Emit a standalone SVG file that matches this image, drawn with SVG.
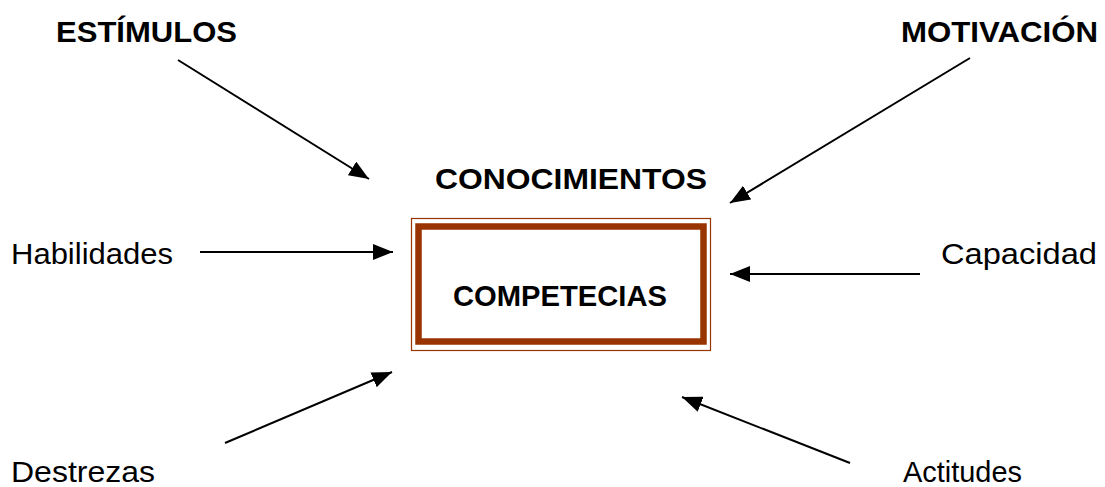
<svg xmlns="http://www.w3.org/2000/svg" width="1105" height="487" viewBox="0 0 1105 487">
<style>
.b{font-family:"Liberation Sans",Arial,sans-serif;font-weight:bold;font-size:30px;fill:#000}
.r{font-family:"Liberation Sans",Arial,sans-serif;font-size:29px;fill:#000}
.c{stroke:#000;stroke-width:2;fill:none;marker-end:url(#ah)}
</style>
<defs>
<marker id="ah" markerUnits="userSpaceOnUse" markerWidth="22" markerHeight="16" refX="20" refY="8" orient="auto">
<path d="M0,0 L20,8 L0,16 Z" fill="#000"/>
</marker>
</defs>
<g id="estimulos"><text class="b" x="56" y="42" textLength="181" lengthAdjust="spacingAndGlyphs">ESTÍMULOS</text></g>
<g id="motivacion"><text class="b" x="901" y="42" textLength="197" lengthAdjust="spacingAndGlyphs">MOTIVACIÓN</text></g>
<g id="conocimientos"><text class="b" x="435" y="189" textLength="272" lengthAdjust="spacingAndGlyphs">CONOCIMIENTOS</text></g>
<g id="competencias">
<rect x="411.5" y="218.5" width="299" height="132" fill="#fff" stroke="#993300" stroke-width="1.2"/>
<rect x="418.5" y="226.5" width="285" height="115" fill="none" stroke="#993300" stroke-width="6.5"/>
<text class="b" x="453" y="306" font-size="29" textLength="214" lengthAdjust="spacingAndGlyphs">COMPETECIAS</text>
</g>
<g id="habilidades"><text class="r" x="11" y="263.5" textLength="162" lengthAdjust="spacingAndGlyphs">Habilidades</text></g>
<g id="capacidad"><text class="r" x="941" y="263.5" textLength="156" lengthAdjust="spacingAndGlyphs">Capacidad</text></g>
<g id="destrezas"><text class="r" x="11" y="481.5" font-size="27" textLength="144" lengthAdjust="spacingAndGlyphs">Destrezas</text></g>
<g id="actitudes"><text class="r" x="903" y="481.5" font-size="27" textLength="119" lengthAdjust="spacingAndGlyphs">Actitudes</text></g>
<g id="connectors">
<line class="c" x1="178" y1="60" x2="369" y2="179"/>
<line class="c" x1="970" y1="58" x2="730" y2="203"/>
<line class="c" x1="200" y1="252" x2="393" y2="252"/>
<line class="c" x1="920" y1="274" x2="730" y2="274"/>
<line class="c" x1="225" y1="443" x2="392" y2="372"/>
<line class="c" x1="850" y1="463" x2="682" y2="397"/>
</g>
</svg>
